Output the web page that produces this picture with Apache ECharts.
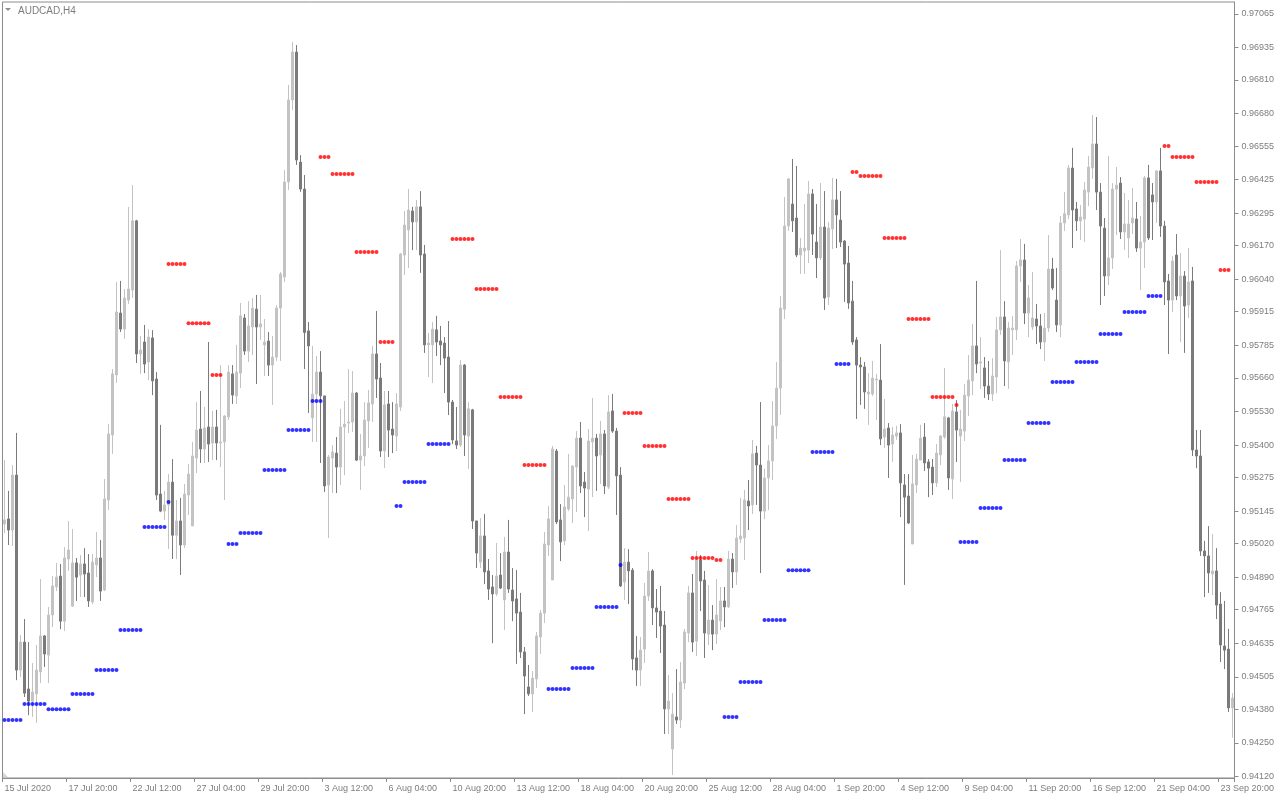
<!DOCTYPE html>
<html><head><meta charset="utf-8">
<script src="https://cdn.jsdelivr.net/npm/echarts@6/dist/echarts.min.js"></script>
<style>html,body{margin:0;padding:0;background:#fff}#c{width:1280px;height:800px}</style>
</head><body><div id="c"></div>
<script>
const chartTitle = 'AUDCAD,H4';
const xTickLabels = ['15 Jul 2020','17 Jul 20:00','22 Jul 12:00','27 Jul 04:00','29 Jul 20:00','3 Aug 12:00','6 Aug 04:00','10 Aug 20:00','13 Aug 12:00','18 Aug 04:00','20 Aug 20:00','25 Aug 12:00','28 Aug 04:00','1 Sep 20:00','4 Sep 12:00','9 Sep 04:00','11 Sep 20:00','16 Sep 12:00','21 Sep 04:00','23 Sep 20:00'];
const barsPerXTick = 16;
const yTickLabels = ['0.97065','0.96935','0.96810','0.96680','0.96555','0.96425','0.96295','0.96170','0.96040','0.95915','0.95785','0.95660','0.95530','0.95400','0.95275','0.95145','0.95020','0.94890','0.94765','0.94635','0.94505','0.94380','0.94250','0.94120'];

const openP = [
0.95095,0.95115,0.95072,0.95284,0.94531,0.94639,0.94458,0.94411,0.94439,0.94524,
0.94663,0.94589,0.94744,0.94852,0.94894,0.94720,0.94960,0.94778,0.94945,0.94898,
0.94941,0.94906,0.94794,0.94937,0.94964,0.94840,0.95188,0.95439,0.95671,0.95910,
0.95848,0.95960,0.95999,0.96266,0.95752,0.95798,0.95721,0.95814,0.95655,0.95211,
0.95145,0.95169,0.95257,0.95052,0.95107,0.95014,0.95207,0.95088,0.95350,0.95462,
0.95385,0.95470,0.95408,0.95470,0.95408,0.95412,0.95509,0.95675,0.95590,0.95678,
0.95891,0.95763,0.95856,0.95925,0.95856,0.95787,0.95802,0.95709,0.95740,0.95929,
0.96049,0.96416,0.96733,0.96918,0.96493,0.96389,0.95841,0.95505,0.95597,0.95682,
0.95590,0.95246,0.95350,0.95369,0.95315,0.95470,0.95485,0.95489,0.95601,0.95342,
0.95358,0.95493,0.95559,0.95752,0.95659,0.95377,0.95559,0.95462,0.95435,0.95547,
0.96134,0.96231,0.96304,0.96262,0.96320,0.96138,0.95787,0.95787,0.95845,0.95802,
0.95794,0.95740,0.95566,0.95416,0.95400,0.95709,0.95435,0.95536,0.95107,0.94948,
0.95049,0.94914,0.94852,0.94825,0.94898,0.94802,0.94987,0.94840,0.94806,0.94755,
0.94601,0.94466,0.94439,0.94497,0.94659,0.94751,0.95014,0.94879,0.95377,0.95111,
0.95030,0.95153,0.95192,0.95315,0.95427,0.95257,0.95230,0.95412,0.95427,0.95362,
0.95443,0.95238,0.95532,0.95454,0.95284,0.94871,0.94948,0.94917,0.94578,0.94531,
0.94612,0.94817,0.94914,0.94771,0.94759,0.94705,0.94381,0.94226,0.94350,0.94338,
0.94481,0.94674,0.94829,0.94643,0.94956,0.94879,0.94670,0.94724,0.94670,0.94721,
0.94798,0.94775,0.94960,0.94910,0.95037,0.95041,0.95184,0.95169,0.95369,0.95323,
0.95145,0.95273,0.95339,0.95474,0.95620,0.95925,0.96246,0.96331,0.96277,0.96134,
0.96150,0.96153,0.96370,0.96184,0.96123,0.96242,0.95972,0.96235,0.96347,0.96269,
0.96188,0.96103,0.95956,0.95806,0.95709,0.95702,0.95597,0.95597,0.95651,0.95651,
0.95431,0.95466,0.95404,0.95435,0.95447,0.95246,0.95203,0.95018,0.95246,0.95342,
0.95431,0.95335,0.95315,0.95254,0.95362,0.95431,0.95505,0.95269,0.95528,0.95435,
0.95454,0.95590,0.95648,0.95783,0.95717,0.95698,0.95628,0.95597,0.95663,0.95845,
0.95895,0.95721,0.95845,0.95845,0.96092,0.96115,0.95910,0.95856,0.95887,0.95860,
0.95798,0.95852,0.96080,0.95960,0.95864,0.96258,0.96289,0.96470,0.96312,0.96266,
0.96273,0.96377,0.96470,0.96563,0.96377,0.96238,0.96053,0.96123,0.96389,0.96412,
0.96223,0.96200,0.96258,0.96273,0.96161,0.96184,0.96432,0.96366,0.96339,0.96459,
0.96246,0.96034,0.95960,0.96134,0.95976,0.96053,0.95941,0.96034,0.95381,0.95358,
0.94991,0.94972,0.94902,0.94914,0.94786,0.94624,0.94612,0.94385];
const highP = [
0.95342,0.95223,0.95323,0.95447,0.94666,0.94728,0.94639,0.94558,0.94628,0.94883,
0.94666,0.94775,0.94894,0.94945,0.94941,0.95006,0.95107,0.95076,0.94964,0.94975,
0.95002,0.94979,0.94979,0.95064,0.95033,0.95269,0.95482,0.95694,0.96030,0.96034,
0.96003,0.96320,0.96404,0.96270,0.95821,0.95864,0.95848,0.95844,0.95682,0.95478,
0.95223,0.95288,0.95346,0.95188,0.95196,0.95250,0.95327,0.95412,0.95566,0.95609,
0.95547,0.95798,0.95532,0.95536,0.95709,0.95516,0.95709,0.95709,0.95787,0.95949,
0.95906,0.95956,0.95968,0.95980,0.95980,0.95887,0.95837,0.95821,0.95941,0.96069,
0.96462,0.96791,0.96957,0.96945,0.96520,0.96443,0.95875,0.95783,0.95744,0.95763,
0.95590,0.95362,0.95400,0.95431,0.95540,0.95570,0.95694,0.95686,0.95605,0.95443,
0.95566,0.95613,0.95783,0.95918,0.95717,0.95609,0.95609,0.95566,0.95601,0.96142,
0.96304,0.96389,0.96320,0.96347,0.96381,0.96173,0.95833,0.95875,0.95899,0.95860,
0.95817,0.95879,0.95574,0.95547,0.95729,0.95713,0.95566,0.95540,0.95107,0.95118,
0.95134,0.94960,0.94898,0.95022,0.94983,0.95045,0.95111,0.94925,0.94917,0.94829,
0.94620,0.94551,0.94527,0.94678,0.94763,0.95064,0.95165,0.95397,0.95385,0.95172,
0.95246,0.95366,0.95323,0.95454,0.95489,0.95296,0.95462,0.95582,0.95443,0.95493,
0.95458,0.95593,0.95597,0.95466,0.95315,0.95002,0.94998,0.94925,0.94663,0.94659,
0.94867,0.94987,0.94921,0.94844,0.94856,0.94759,0.94512,0.94442,0.94535,0.94562,
0.94690,0.94856,0.94902,0.94991,0.94975,0.94914,0.94860,0.94782,0.94883,0.94852,
0.94852,0.94991,0.94983,0.95091,0.95196,0.95227,0.95265,0.95420,0.95397,0.95566,
0.95308,0.95400,0.95570,0.95721,0.95976,0.96358,0.96432,0.96505,0.96478,0.96200,
0.96331,0.96420,0.96389,0.96331,0.96412,0.96381,0.96262,0.96432,0.96428,0.96381,
0.96192,0.96169,0.96034,0.95817,0.95740,0.95721,0.95678,0.95725,0.95675,0.95790,
0.95578,0.95485,0.95470,0.95474,0.95481,0.95288,0.95288,0.95362,0.95366,0.95478,
0.95485,0.95346,0.95346,0.95404,0.95439,0.95698,0.95509,0.95559,0.95574,0.95536,
0.95636,0.95748,0.95868,0.96034,0.95817,0.95740,0.95725,0.95736,0.95895,0.96153,
0.95956,0.95875,0.95899,0.96111,0.96196,0.96177,0.96018,0.96069,0.95945,0.95906,
0.95910,0.96211,0.96123,0.96084,0.96285,0.96377,0.96482,0.96548,0.96339,0.96327,
0.96416,0.96517,0.96675,0.96667,0.96412,0.96277,0.96517,0.96412,0.96474,0.96435,
0.96374,0.96347,0.96393,0.96339,0.96285,0.96439,0.96482,0.96412,0.96462,0.96548,
0.96266,0.96061,0.96130,0.96215,0.96142,0.96072,0.96161,0.96088,0.95458,0.95458,
0.95030,0.95087,0.95056,0.95002,0.94832,0.94798,0.94690,0.94442];
const lowP = [
0.95060,0.95014,0.95010,0.94492,0.94504,0.94427,0.94357,0.94350,0.94327,0.94481,
0.94543,0.94481,0.94697,0.94836,0.94689,0.94682,0.94914,0.94775,0.94798,0.94813,
0.94813,0.94775,0.94786,0.94890,0.94798,0.94836,0.95149,0.95366,0.95640,0.95837,
0.95810,0.95945,0.95968,0.95717,0.95675,0.95678,0.95651,0.95593,0.95188,0.95141,
0.95111,0.94999,0.94960,0.94960,0.94898,0.95003,0.95130,0.95088,0.95292,0.95331,
0.95331,0.95335,0.95342,0.95342,0.95315,0.95188,0.95497,0.95559,0.95559,0.95620,
0.95748,0.95721,0.95748,0.95636,0.95806,0.95667,0.95667,0.95555,0.95725,0.95725,
0.96030,0.96385,0.96694,0.96482,0.96378,0.95694,0.95524,0.95412,0.95412,0.95331,
0.95219,0.95041,0.95215,0.95215,0.95246,0.95284,0.95447,0.95451,0.95338,0.95227,
0.95319,0.95389,0.95489,0.95582,0.95354,0.95311,0.95354,0.95369,0.95377,0.95532,
0.96057,0.96084,0.96153,0.96153,0.96065,0.95756,0.95663,0.95640,0.95744,0.95709,
0.95601,0.95516,0.95404,0.95385,0.95393,0.95358,0.95308,0.95076,0.94925,0.94925,
0.94863,0.94802,0.94635,0.94817,0.94844,0.94686,0.94829,0.94720,0.94555,0.94578,
0.94361,0.94431,0.94369,0.94462,0.94593,0.94713,0.94972,0.94879,0.95095,0.94952,
0.95014,0.95145,0.95099,0.95141,0.95215,0.95122,0.95068,0.95199,0.95223,0.95250,
0.95211,0.95230,0.95447,0.95130,0.94852,0.94802,0.94786,0.94531,0.94470,0.94470,
0.94558,0.94798,0.94705,0.94655,0.94597,0.94284,0.94284,0.94126,0.94323,0.94307,
0.94458,0.94639,0.94601,0.94585,0.94759,0.94578,0.94628,0.94608,0.94632,0.94686,
0.94697,0.94771,0.94848,0.94860,0.95022,0.94956,0.95072,0.95134,0.95169,0.94906,
0.95114,0.95149,0.95265,0.95424,0.95516,0.95887,0.96227,0.96223,0.96126,0.96061,
0.96061,0.96103,0.96134,0.96045,0.96115,0.95922,0.95941,0.96157,0.96161,0.96165,
0.95953,0.95926,0.95787,0.95501,0.95555,0.95540,0.95478,0.95590,0.95497,0.95400,
0.95389,0.95273,0.95335,0.95420,0.95122,0.94860,0.95095,0.95018,0.95215,0.95342,
0.95300,0.95199,0.95207,0.95238,0.95323,0.95424,0.95227,0.95192,0.95335,0.95257,
0.95416,0.95512,0.95593,0.95678,0.95617,0.95582,0.95574,0.95570,0.95601,0.95825,
0.95628,0.95617,0.95748,0.95806,0.96030,0.95867,0.95817,0.95845,0.95790,0.95771,
0.95725,0.95837,0.95999,0.95837,0.95817,0.96227,0.96273,0.96161,0.96227,0.96192,
0.96184,0.96323,0.96428,0.96308,0.95941,0.95976,0.96018,0.96080,0.96211,0.96196,
0.96153,0.96123,0.96215,0.96146,0.95999,0.96084,0.96192,0.96192,0.96258,0.96204,
0.95941,0.95752,0.95914,0.95960,0.95798,0.95756,0.95891,0.95358,0.95311,0.94972,
0.94813,0.94829,0.94821,0.94728,0.94562,0.94535,0.94369,0.94270];
const closeP = [
0.95111,0.95072,0.95284,0.94531,0.94639,0.94442,0.94411,0.94446,0.94531,0.94663,
0.94593,0.94744,0.94856,0.94890,0.94720,0.94964,0.94995,0.94945,0.94890,0.94941,
0.94902,0.94798,0.94948,0.94964,0.94836,0.95192,0.95443,0.95675,0.95914,0.95848,
0.95968,0.96003,0.96266,0.95752,0.95767,0.95713,0.95817,0.95648,0.95207,0.95145,
0.95169,0.95257,0.95052,0.95107,0.95014,0.95211,0.95288,0.95358,0.95458,0.95385,
0.95466,0.95404,0.95470,0.95408,0.95412,0.95512,0.95682,0.95593,0.95682,0.95899,
0.95763,0.95860,0.95929,0.95856,0.95868,0.95798,0.95709,0.95740,0.95929,0.96061,
0.96416,0.96733,0.96918,0.96501,0.96389,0.95835,0.95783,0.95597,0.95682,0.95590,
0.95242,0.95354,0.95373,0.95315,0.95470,0.95481,0.95489,0.95601,0.95342,0.95358,
0.95497,0.95563,0.95752,0.95655,0.95377,0.95555,0.95458,0.95439,0.95559,0.96138,
0.96250,0.96308,0.96262,0.96320,0.96134,0.95787,0.95794,0.95848,0.95798,0.95787,
0.95736,0.95566,0.95420,0.95400,0.95709,0.95439,0.95540,0.95107,0.94983,0.95049,
0.94910,0.94844,0.94825,0.94894,0.94848,0.94987,0.94844,0.94798,0.94751,0.94601,
0.94508,0.94439,0.94500,0.94663,0.94751,0.95018,0.95115,0.95385,0.95103,0.95026,
0.95161,0.95199,0.95319,0.95427,0.95242,0.95234,0.95416,0.95427,0.95358,0.95443,
0.95242,0.95528,0.95454,0.95281,0.94856,0.94948,0.94914,0.94574,0.94531,0.94608,
0.94817,0.94914,0.94771,0.94755,0.94701,0.94381,0.94411,0.94361,0.94338,0.94485,
0.94678,0.94829,0.94639,0.94956,0.94875,0.94674,0.94724,0.94670,0.94744,0.94798,
0.94775,0.94960,0.94910,0.95041,0.95049,0.95188,0.95165,0.95366,0.95323,0.95145,
0.95273,0.95339,0.95474,0.95620,0.95929,0.96246,0.96428,0.96266,0.96134,0.96161,
0.96161,0.96370,0.96215,0.96123,0.96242,0.95968,0.96238,0.96347,0.96289,0.96184,
0.96099,0.95949,0.95798,0.95709,0.95702,0.95605,0.95605,0.95659,0.95655,0.95424,
0.95462,0.95400,0.95439,0.95447,0.95254,0.95199,0.95099,0.95250,0.95346,0.95427,
0.95331,0.95311,0.95254,0.95369,0.95435,0.95509,0.95273,0.95532,0.95458,0.95462,
0.95593,0.95651,0.95783,0.95713,0.95721,0.95628,0.95597,0.95667,0.95845,0.95895,
0.95725,0.95852,0.95852,0.96092,0.96115,0.95910,0.95968,0.95891,0.95860,0.95798,
0.95852,0.96080,0.96007,0.95864,0.96258,0.96293,0.96470,0.96308,0.96266,0.96281,
0.96385,0.96474,0.96563,0.96377,0.96246,0.96053,0.96123,0.96389,0.96404,0.96223,
0.96254,0.96254,0.96277,0.96161,0.96184,0.96432,0.96200,0.96339,0.96459,0.96246,
0.96030,0.95960,0.96111,0.95976,0.96053,0.95937,0.96030,0.95381,0.95358,0.94991,
0.94972,0.94906,0.94914,0.94782,0.94628,0.94608,0.94385,0.94423];

// indicator dot runs: [first bar, last bar, level]
const blueDots = [
[0,4,0.94338],[5,10,0.94400],[11,16,0.94380],[17,22,0.94439],[23,28,0.94531],[29,34,0.94686],
[35,40,0.95084],[41,41,0.95180],[56,58,0.95018],[59,64,0.95060],[65,70,0.95304],[71,76,0.95458],
[77,79,0.95570],[98,99,0.95165],[100,105,0.95257],[106,111,0.95404],[136,141,0.94458],[142,147,0.94539],
[148,153,0.94775],[154,154,0.94937],[180,183,0.94350],[184,189,0.94485],[190,195,0.94724],[196,201,0.94917],
[202,207,0.95373],[208,211,0.95713],[239,243,0.95026],[244,249,0.95157],[250,255,0.95342],[256,261,0.95485],
[262,267,0.95644],[268,273,0.95721],[274,279,0.95829],[280,285,0.95914],[286,289,0.95976]];
const redDots = [
[41,45,0.96099],[46,51,0.95871],[52,54,0.95671],[79,81,0.96513],[82,87,0.96447],[88,93,0.96146],
[94,97,0.95798],[112,117,0.96196],[118,123,0.96003],[124,129,0.95586],[130,135,0.95323],[155,159,0.95524],
[160,165,0.95396],[166,171,0.95192],[172,177,0.94964],[178,179,0.94956],[212,213,0.96455],[214,219,0.96439],
[220,225,0.96200],[226,231,0.95887],[232,237,0.95586],[238,238,0.95555],[290,291,0.96555],[292,297,0.96513],
[298,303,0.96416],[304,306,0.96076]];

const categories = openP.map((_, i) => String(i));
const candles = openP.map((o, i) => [o, closeP[i], lowP[i], highP[i]]);
function dotPoints(runs) {
  const pts = [];
  runs.forEach(r => { for (let b = r[0]; b <= r[1]; b++) pts.push([b, r[2]]); });
  return pts;
}
const yTickValues = yTickLabels.map(Number);

const GRAY = '#8c8c8c', TXT = '#7d7d7d', FONT = '"Liberation Sans", Arial, sans-serif';
const chart = echarts.init(document.getElementById('c'), null, {renderer: 'canvas'});
chart.setOption({
  animation: false,
  backgroundColor: '#ffffff',
  title: {text: chartTitle, left: 18, top: 6, padding: 0, textStyle: {fontSize: 10, fontWeight: 'normal', color: TXT, fontFamily: FONT}},
  graphic: [
    {type: 'polygon', shape: {points: [[5, 8], [11, 8], [8, 11]]}, style: {fill: '#8f8f8f'}},
    {type: 'polygon', shape: {points: [[3, 772], [3, 777], [8, 777]]}, style: {fill: '#d8d8d8'}}
  ],
  grid: {left: 2.5, top: 2, width: 1232, height: 776, show: true, borderColor: GRAY, borderWidth: 1},
  xAxis: {
    type: 'category', data: categories, boundaryGap: true,
    axisLine: {show: true, lineStyle: {color: GRAY}},
    axisTick: {show: true, alignWithLabel: false, length: 4, interval: (i) => i % barsPerXTick === 0, lineStyle: {color: GRAY}},
    axisLabel: {interval: (i) => i % barsPerXTick === 0, formatter: (v, i) => xTickLabels[Math.round(i / barsPerXTick)] || '',
      align: 'left', margin: 6, padding: 0, color: TXT, fontSize: 9, fontFamily: FONT},
    splitLine: {show: false}
  },
  yAxis: {
    type: 'value', position: 'right', scale: true, min: 0.941142, max: 0.971113,
    axisLine: {show: true, lineStyle: {color: GRAY}},
    axisTick: {show: true, length: 4, customValues: yTickValues, lineStyle: {color: GRAY}},
    axisLabel: {customValues: yTickValues, formatter: (v) => v.toFixed(5), margin: 7, color: TXT, fontSize: 9, fontFamily: FONT},
    splitLine: {show: false}
  },
  series: [
    {type: 'candlestick', data: candles, barWidth: 2,
      itemStyle: {color: '#c3c3c3', color0: '#7a7a7a', borderColor: '#c3c3c3', borderColor0: '#7a7a7a', borderWidth: 1}},
    {type: 'scatter', data: dotPoints(redDots), symbol: 'circle', symbolSize: 4, itemStyle: {color: '#ff0000'}},
    {type: 'scatter', data: dotPoints(blueDots), symbol: 'circle', symbolSize: 4, itemStyle: {color: '#0000ff'}}
  ]
});
</script></body></html>
